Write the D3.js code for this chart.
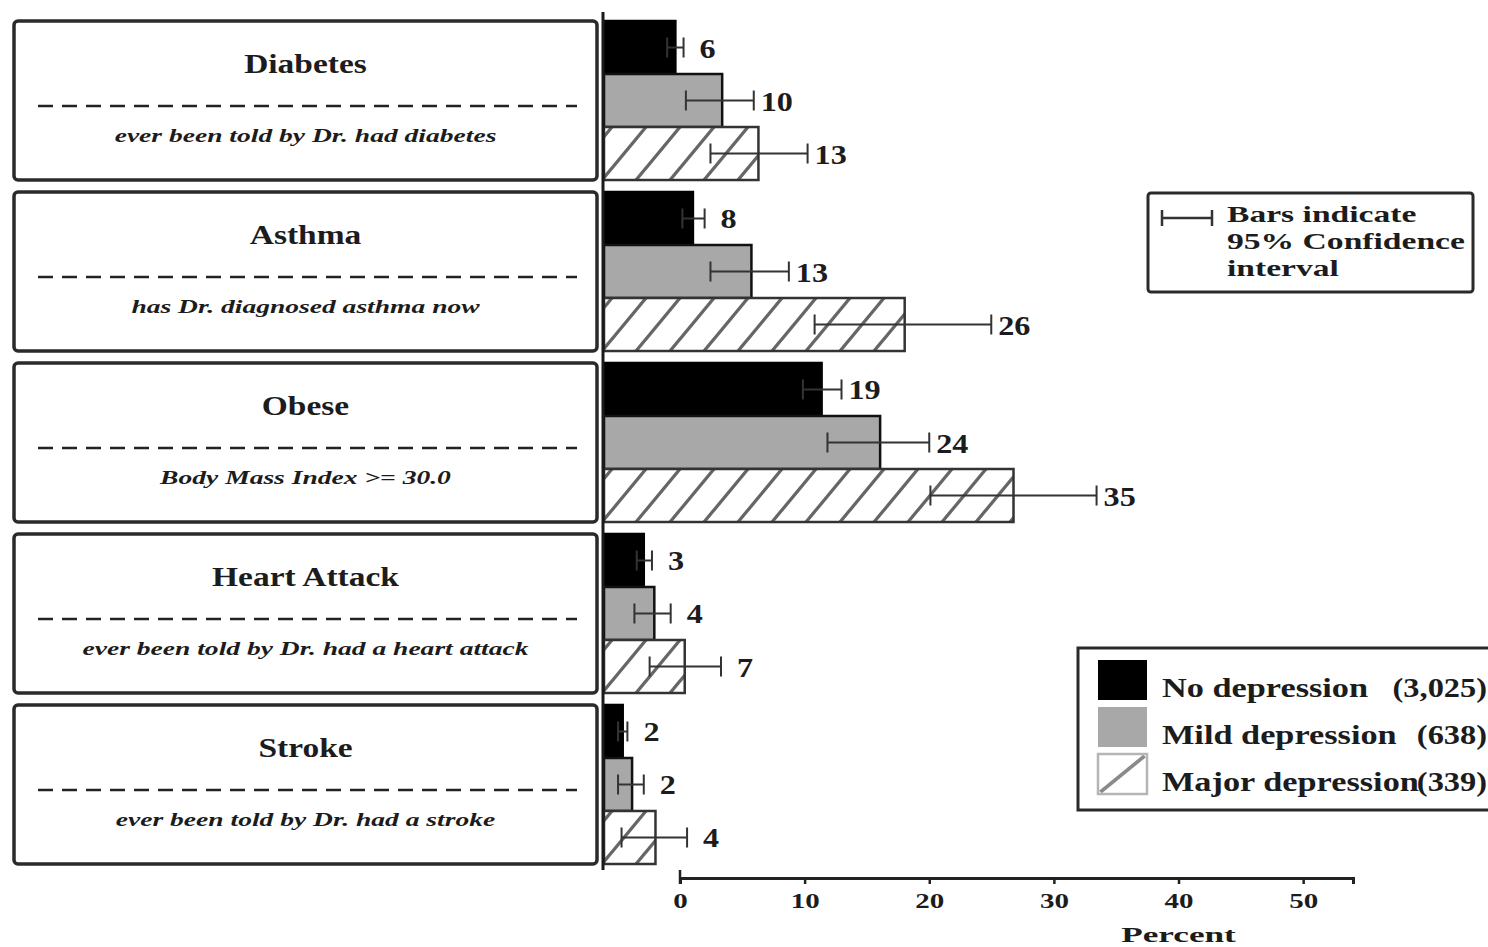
<!DOCTYPE html>
<html>
<head>
<meta charset="utf-8">
<script src="https://cdn.jsdelivr.net/npm/d3@7"></script>
<style>
  body { margin: 0; background: #fff; }
  svg { display: block; }
</style>
</head>
<body>
<script>
// chart values
const categories = ["Diabetes", "Asthma", "Obese", "Heart Attack", "Stroke"];
const descriptions = [
  "ever been told by Dr. had diabetes",
  "has Dr. diagnosed asthma now",
  "Body Mass Index >= 30.0",
  "ever been told by Dr. had a heart attack",
  "ever been told by Dr. had a stroke",
];
const series = ["No depression", "Mild depression", "Major depression"];
const seriesCounts = ["(3,025)", "(638)", "(339)"];

const noDep = [6.1, 7.6, 18.6, 3.4, 1.6];
const noDepLow = [5.4, 6.7, 17.0, 2.8, 1.2];
const noDepHigh = [6.8, 8.6, 20.3, 4.1, 2.0];

const mildDep = [10.1, 12.6, 23.6, 4.3, 2.4];
const mildDepLow = [7.0, 9.1, 19.1, 2.6, 1.2];
const mildDepHigh = [12.8, 15.8, 27.8, 5.7, 3.4];

const majorDep = [13.2, 25.7, 35.0, 6.9, 4.4];
const majorDepLow = [9.1, 18.0, 27.9, 3.9, 1.5];
const majorDepHigh = [17.4, 33.1, 42.1, 10.0, 7.1];

const axisTicks = [0, 10, 20, 30, 40, 50];

const values = [noDep, mildDep, majorDep];
const lows = [noDepLow, mildDepLow, majorDepLow];
const highs = [noDepHigh, mildDepHigh, majorDepHigh];

const rows = categories.map((cat, i) => ({
  cat,
  desc: descriptions[i],
  bars: series.map((s, j) => ({
    series: s,
    value: values[j][i],
    low: lows[j][i],
    high: highs[j][i],
  })),
}));

const width = 1488;
const height = 947;
const serif = "'Liberation Serif', 'Times New Roman', serif";
const ink = "#1c1c1c";

const svg = d3
  .select("body")
  .append("svg")
  .attr("width", width)
  .attr("height", height)
  .attr("viewBox", `0 0 ${width} ${height}`);

// hatch patterns for major depression
const defs = svg.append("defs");
const hatch = defs
  .append("pattern")
  .attr("id", "hatch")
  .attr("patternUnits", "userSpaceOnUse")
  .attr("width", 34)
  .attr("height", 41);
hatch.append("rect").attr("width", 34).attr("height", 41).attr("fill", "#fff");
hatch
  .append("path")
  .attr("d", "M0,41 L34,0 M-3,3.6 L3,-3.6 M31,44.6 L37,37.4")
  .attr("stroke", "#666")
  .attr("stroke-width", 3.3);

const hatchKey = defs
  .append("pattern")
  .attr("id", "hatch-key")
  .attr("patternContentUnits", "objectBoundingBox")
  .attr("width", 1)
  .attr("height", 1);
hatchKey.append("rect").attr("width", 1).attr("height", 1).attr("fill", "#fff");
hatchKey
  .append("path")
  .attr("d", "M0.05,0.95 L0.95,0.05")
  .attr("stroke", "#8a8a8a")
  .attr("stroke-width", 0.08);

const fills = ["#000", "#a8a8a8", "url(#hatch)"];
const keyFills = ["#000", "#a8a8a8", "url(#hatch-key)"];
const strokes = ["#000", "#111", "#333"];

// scales
const yScale = d3
  .scaleBand()
  .domain(categories)
  .range([21, 864])
  .paddingInner(0.07);

const ySub = d3
  .scaleBand()
  .domain(series)
  .range([0, yScale.bandwidth()]);

const xBar = d3.scaleLinear().domain([0, 50]).range([604, 1189]);
const xAxisScale = d3.scaleLinear().domain([0, 54]).range([680, 1353]);

// left label boxes
const boxLeft = 14;
const boxRight = 597;
const boxMid = (boxLeft + boxRight) / 2;

const boxes = svg
  .append("g")
  .selectAll("g")
  .data(rows)
  .join("g")
  .attr("transform", (d) => `translate(0 ${yScale(d.cat)})`);

boxes
  .append("rect")
  .attr("x", boxLeft)
  .attr("y", 0)
  .attr("width", boxRight - boxLeft)
  .attr("height", yScale.bandwidth())
  .attr("rx", 4)
  .attr("fill", "#fff")
  .attr("stroke", "#2a2a2a")
  .attr("stroke-width", 3.5);

boxes
  .append("text")
  .attr("transform", `translate(${boxMid} 52) scale(1.24 1)`)
  .attr("text-anchor", "middle")
  .attr("font-family", serif)
  .attr("font-weight", "bold")
  .attr("font-size", 27)
  .attr("fill", ink)
  .text((d) => d.cat);

boxes
  .append("line")
  .attr("x1", 38)
  .attr("x2", 577)
  .attr("y1", 85)
  .attr("y2", 85)
  .attr("stroke", "#222")
  .attr("stroke-width", 2.5)
  .attr("stroke-dasharray", "15 9");

boxes
  .append("text")
  .attr("transform", `translate(${boxMid} 121) scale(1.45 1)`)
  .attr("text-anchor", "middle")
  .attr("font-family", serif)
  .attr("font-style", "italic")
  .attr("font-weight", "bold")
  .attr("font-size", 19)
  .attr("fill", ink)
  .text((d) => d.desc);

// bars
const groups = svg
  .append("g")
  .selectAll("g")
  .data(rows)
  .join("g")
  .attr("transform", (d) => `translate(0 ${yScale(d.cat)})`);

const bars = groups
  .selectAll("g")
  .data((d) => d.bars)
  .join("g")
  .attr("transform", (d) => `translate(0 ${ySub(d.series)})`);

bars
  .append("rect")
  .attr("x", xBar(0))
  .attr("y", 0)
  .attr("width", (d) => xBar(d.value) - xBar(0))
  .attr("height", ySub.bandwidth())
  .attr("fill", (d, i) => fills[i])
  .attr("stroke", (d, i) => strokes[i])
  .attr("stroke-width", 2.5);

// error bars
const mid = ySub.bandwidth() / 2;
const capH = 10;

bars
  .append("path")
  .attr(
    "d",
    (d) =>
      `M${xBar(d.low)},${mid - capH}V${mid + capH}` +
      `M${xBar(d.low)},${mid}H${xBar(d.high)}` +
      `M${xBar(d.high)},${mid - capH}V${mid + capH}`
  )
  .attr("fill", "none")
  .attr("stroke", "#333")
  .attr("stroke-width", 2);

bars
  .append("text")
  .attr("transform", (d) => {
    const r = Math.round(d.value);
    const gap = r < 10 ? 16 : 7;
    return `translate(${xBar(d.high) + gap} ${mid + 10}) scale(1.15 1)`;
  })
  .attr("font-family", serif)
  .attr("font-weight", "bold")
  .attr("font-size", 28)
  .attr("fill", ink)
  .text((d) => Math.round(d.value));

// vertical divider
svg
  .append("line")
  .attr("x1", 603)
  .attr("x2", 603)
  .attr("y1", 12)
  .attr("y2", 870)
  .attr("stroke", "#1a1a1a")
  .attr("stroke-width", 3);

// bottom axis
const axisY = 878;
const axis = d3
  .axisBottom(xAxisScale)
  .tickValues(axisTicks)
  .tickSize(6)
  .tickPadding(10)
  .tickFormat(d3.format("d"));

const axisG = svg
  .append("g")
  .attr("transform", `translate(0 ${axisY})`)
  .call(axis);

axisG.select(".domain").attr("stroke", "#222").attr("stroke-width", 3);
axisG.selectAll(".tick line").attr("stroke", "#222").attr("stroke-width", 2.5);
axisG
  .selectAll(".tick text")
  .attr("font-family", serif)
  .attr("font-weight", "bold")
  .attr("font-size", 20)
  .attr("fill", ink)
  .attr("y", 0)
  .attr("dy", 0)
  .attr("transform", "translate(0 30) scale(1.45 1)");

axisG
  .append("line")
  .attr("x1", xAxisScale(0))
  .attr("x2", xAxisScale(0))
  .attr("y1", -8)
  .attr("y2", 6)
  .attr("stroke", "#222")
  .attr("stroke-width", 2.5);

svg
  .append("text")
  .attr("transform", `translate(${xAxisScale(40)} 942) scale(1.6 1)`)
  .attr("text-anchor", "middle")
  .attr("font-family", serif)
  .attr("font-weight", "bold")
  .attr("font-size", 22)
  .attr("fill", ink)
  .text("Percent");

// confidence interval note
const ci = svg.append("g").attr("transform", "translate(1148 193)");
ci.append("rect")
  .attr("width", 325)
  .attr("height", 99)
  .attr("rx", 3)
  .attr("fill", "#fff")
  .attr("stroke", "#2a2a2a")
  .attr("stroke-width", 3);
ci.append("path")
  .attr("d", "M14,17V33M14,25H64M64,17V33")
  .attr("stroke", "#333")
  .attr("stroke-width", 2.5)
  .attr("fill", "none");
ci.selectAll("text")
  .data(["Bars indicate", "95% Confidence", "interval"])
  .join("text")
  .attr("transform", (d, i) => `translate(79 ${29 + i * 27}) scale(1.4 1)`)
  .attr("font-family", serif)
  .attr("font-weight", "bold")
  .attr("font-size", 24)
  .attr("fill", ink)
  .text((d) => d);

// series legend
const legend = svg.append("g").attr("transform", "translate(1078 648)");
legend
  .append("rect")
  .attr("width", 440)
  .attr("height", 162)
  .attr("fill", "#fff")
  .attr("stroke", "#2a2a2a")
  .attr("stroke-width", 3);

const items = legend
  .selectAll("g")
  .data(series)
  .join("g")
  .attr("transform", (d, i) => `translate(20 ${12 + i * 47})`);

items
  .append("rect")
  .attr("width", 49)
  .attr("height", 40)
  .attr("fill", (d, i) => keyFills[i])
  .attr("stroke", (d, i) => (i === 2 ? "#b5b5b5" : "none"))
  .attr("stroke-width", 2.5);

items
  .append("text")
  .attr("transform", "translate(64 37) scale(1.27 1)")
  .attr("font-family", serif)
  .attr("font-weight", "bold")
  .attr("font-size", 27)
  .attr("fill", ink)
  .text((d) => d);

items
  .append("text")
  .attr("transform", "translate(389 37) scale(1.2 1)")
  .attr("text-anchor", "end")
  .attr("font-family", serif)
  .attr("font-weight", "bold")
  .attr("font-size", 27)
  .attr("fill", ink)
  .text((d, i) => seriesCounts[i]);
</script>
</body>
</html>
